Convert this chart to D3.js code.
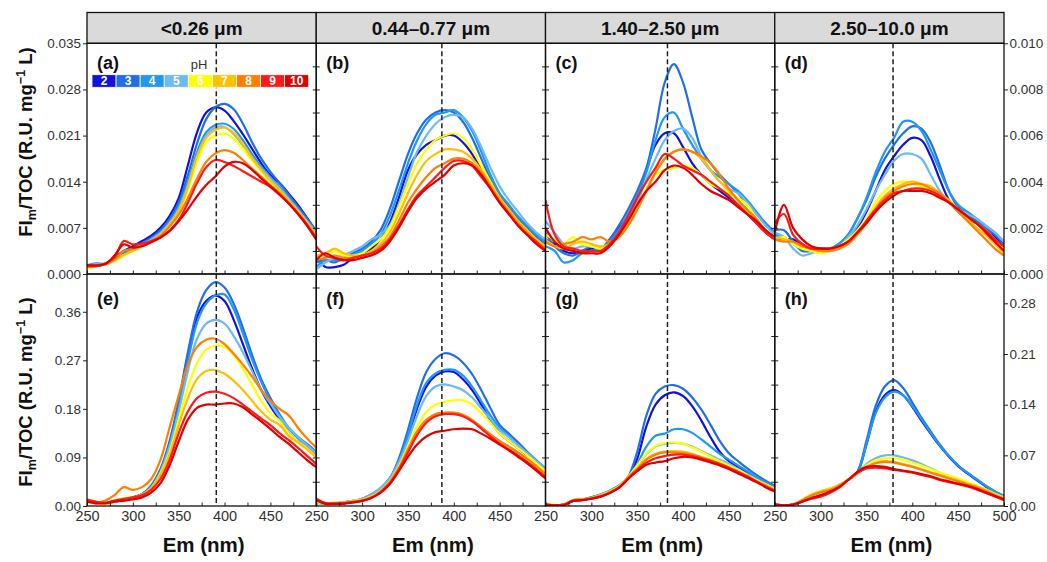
<!DOCTYPE html>
<html><head><meta charset="utf-8">
<script src="https://cdn.jsdelivr.net/npm/d3@7"></script>
<style>
body{margin:0;background:#fff}
svg{display:block}
text{font-family:"Liberation Sans",Arial,sans-serif}
</style>
</head><body>
<svg id="chart" width="1047" height="562"></svg>
<script>
// ---------------- DATA ----------------
const wavelengths = [250,260,270,280,290,300,310,320,330,340,350,360,370,380,390,400,410,420,430,440,450,460,470,480,490,500];
const phLevels = [2,3,4,5,6,7,8,9,10];
const phColors = ["#1212dc","#1f6fe6","#2196f3","#6cbaf5","#ffff00","#ffc000","#ff8000","#ff1a1a","#e00000"];
const sizeFractions = ["<0.26 μm","0.44–0.77 μm","1.40–2.50 μm","2.50–10.0 μm"];
const panelLetters = [["(a)","(b)","(c)","(d)"],["(e)","(f)","(g)","(h)"]];
const peakLines = [391,387,383,379];
const xTickLabels = [250,300,350,400,450];
const xTickLabelsLast = [250,300,350,400,450,500];
const xMinorTicks = [250,275,300,325,350,375,400,425,450,475,500];
const yTicksTopLeft = [0,0.007,0.014,0.021,0.028,0.035];
const yTicksTopRight = [0,0.002,0.004,0.006,0.008,0.010];
const yTicksBottomLeft = [0,0.09,0.18,0.27,0.36];
const yTicksBottomRight = [0,0.07,0.14,0.21,0.28];
const yInnerTop = [0.0035,0.007,0.0105,0.014,0.0175,0.021,0.0245,0.028,0.0315];
const yInnerBottom = [0.045,0.09,0.135,0.18,0.225,0.27,0.315,0.36,0.405];
const topDomainLeft = [0,0.035];
const topDomainRight = [0,0.010];
const bottomDomainLeft = [0,0.43];
const bottomDomainRight = [0,0.3205];

// (a) <0.26 um, pH 2..10
const panelA = [
[0.0010,0.0012,0.0015,0.0025,0.0035,0.0042,0.0050,0.0058,0.0070,0.0088,0.0115,0.0165,0.0215,0.0245,0.0253,0.0248,0.0232,0.0212,0.0190,0.0168,0.0150,0.0138,0.0122,0.0105,0.0085,0.0063],
[0.0010,0.0015,0.0016,0.0023,0.0032,0.0039,0.0046,0.0055,0.0066,0.0083,0.0108,0.0150,0.0198,0.0235,0.0253,0.0258,0.0250,0.0228,0.0200,0.0175,0.0155,0.0138,0.0120,0.0102,0.0084,0.0066],
[0.0013,0.0016,0.0015,0.0022,0.0030,0.0037,0.0044,0.0053,0.0063,0.0079,0.0102,0.0140,0.0185,0.0215,0.0226,0.0228,0.0220,0.0203,0.0182,0.0163,0.0147,0.0132,0.0116,0.0099,0.0081,0.0064],
[0.0012,0.0015,0.0014,0.0021,0.0029,0.0036,0.0043,0.0052,0.0062,0.0077,0.0099,0.0135,0.0180,0.0210,0.0222,0.0223,0.0212,0.0195,0.0177,0.0160,0.0145,0.0130,0.0114,0.0097,0.0080,0.0063],
[0.0008,0.0012,0.0015,0.0020,0.0028,0.0035,0.0042,0.0050,0.0060,0.0075,0.0095,0.0128,0.0170,0.0200,0.0210,0.0213,0.0205,0.0190,0.0172,0.0156,0.0141,0.0127,0.0111,0.0095,0.0077,0.0058],
[0.0010,0.0013,0.0015,0.0021,0.0029,0.0035,0.0042,0.0050,0.0060,0.0075,0.0096,0.0132,0.0178,0.0207,0.0219,0.0222,0.0214,0.0197,0.0176,0.0158,0.0142,0.0128,0.0112,0.0096,0.0078,0.0059],
[0.0012,0.0013,0.0015,0.0022,0.0035,0.0038,0.0044,0.0050,0.0058,0.0072,0.0090,0.0115,0.0145,0.0170,0.0183,0.0188,0.0184,0.0173,0.0160,0.0148,0.0135,0.0123,0.0108,0.0093,0.0075,0.0056],
[0.0012,0.0012,0.0016,0.0025,0.0050,0.0045,0.0046,0.0050,0.0056,0.0066,0.0082,0.0108,0.0138,0.0162,0.0173,0.0170,0.0164,0.0156,0.0148,0.0140,0.0132,0.0120,0.0107,0.0092,0.0075,0.0055],
[0.0014,0.0013,0.0015,0.0028,0.0045,0.0040,0.0042,0.0048,0.0055,0.0065,0.0080,0.0098,0.0118,0.0135,0.0148,0.0163,0.0170,0.0168,0.0158,0.0145,0.0133,0.0121,0.0107,0.0091,0.0073,0.0052]
];
// (b) 0.44-0.77 um
const panelB = [
[0.0008,0.0003,0.0003,0.0004,0.0007,0.0009,0.0011,0.0015,0.0022,0.0033,0.0045,0.0052,0.0056,0.0058,0.0060,0.0060,0.0057,0.0052,0.0045,0.0038,0.0032,0.0027,0.0023,0.0019,0.0015,0.0012],
[0.0005,0.0006,0.0005,0.0007,0.0009,0.0011,0.0014,0.0019,0.0028,0.0040,0.0052,0.0061,0.0067,0.0070,0.0071,0.0070,0.0066,0.0059,0.0050,0.0041,0.0034,0.0029,0.0024,0.0020,0.0016,0.0013],
[0.0003,0.0006,0.0006,0.0006,0.0008,0.0010,0.0013,0.0017,0.0025,0.0036,0.0048,0.0058,0.0065,0.0069,0.0070,0.0071,0.0068,0.0062,0.0053,0.0043,0.0035,0.0030,0.0025,0.0021,0.0017,0.0014],
[0.0002,0.0005,0.0007,0.0008,0.0010,0.0012,0.0015,0.0017,0.0021,0.0030,0.0042,0.0053,0.0060,0.0065,0.0068,0.0069,0.0068,0.0063,0.0055,0.0046,0.0038,0.0032,0.0027,0.0022,0.0018,0.0015],
[0.0007,0.0008,0.0010,0.0008,0.0008,0.0009,0.0012,0.0015,0.0020,0.0029,0.0039,0.0048,0.0054,0.0058,0.0060,0.0061,0.0059,0.0054,0.0047,0.0040,0.0033,0.0028,0.0023,0.0019,0.0015,0.0012],
[0.0008,0.0009,0.0011,0.0009,0.0008,0.0008,0.0010,0.0013,0.0018,0.0026,0.0035,0.0043,0.0049,0.0052,0.0054,0.0054,0.0053,0.0050,0.0045,0.0039,0.0033,0.0028,0.0023,0.0019,0.0015,0.0012],
[0.0006,0.0007,0.0008,0.0007,0.0007,0.0008,0.0009,0.0012,0.0016,0.0023,0.0031,0.0037,0.0042,0.0046,0.0048,0.0050,0.0050,0.0048,0.0044,0.0038,0.0032,0.0027,0.0022,0.0018,0.0014,0.0011],
[0.0012,0.0008,0.0007,0.0006,0.0007,0.0008,0.0009,0.0011,0.0015,0.0021,0.0028,0.0034,0.0038,0.0042,0.0046,0.0049,0.0049,0.0047,0.0042,0.0037,0.0031,0.0026,0.0021,0.0017,0.0014,0.0010],
[0.0006,0.0009,0.0007,0.0006,0.0006,0.0007,0.0008,0.0010,0.0014,0.0020,0.0027,0.0033,0.0037,0.0040,0.0043,0.0047,0.0048,0.0047,0.0043,0.0037,0.0031,0.0026,0.0021,0.0017,0.0013,0.0010]
];
// (c) 1.40-2.50 um
const panelC = [
[0.0015,0.0013,0.0010,0.0009,0.0010,0.0011,0.0010,0.0015,0.0020,0.0025,0.0033,0.0045,0.0056,0.0061,0.0061,0.0055,0.0048,0.0043,0.0039,0.0036,0.0033,0.0030,0.0026,0.0022,0.0018,0.0015],
[0.0018,0.0012,0.0009,0.0008,0.0010,0.0012,0.0011,0.0015,0.0021,0.0028,0.0036,0.0046,0.0063,0.0083,0.0091,0.0083,0.0068,0.0054,0.0048,0.0043,0.0039,0.0035,0.0030,0.0026,0.0022,0.0018],
[0.0012,0.0010,0.0005,0.0006,0.0009,0.0010,0.0011,0.0014,0.0019,0.0026,0.0034,0.0044,0.0058,0.0068,0.0070,0.0063,0.0056,0.0050,0.0045,0.0042,0.0039,0.0036,0.0032,0.0027,0.0022,0.0018],
[0.0023,0.0018,0.0013,0.0011,0.0012,0.0012,0.0011,0.0013,0.0018,0.0024,0.0031,0.0041,0.0050,0.0058,0.0062,0.0063,0.0059,0.0051,0.0045,0.0040,0.0037,0.0035,0.0031,0.0026,0.0021,0.0017],
[0.0017,0.0015,0.0013,0.0016,0.0013,0.0012,0.0011,0.0013,0.0017,0.0022,0.0029,0.0037,0.0043,0.0045,0.0046,0.0047,0.0046,0.0043,0.0039,0.0037,0.0035,0.0033,0.0030,0.0024,0.0019,0.0015],
[0.0015,0.0012,0.0011,0.0013,0.0014,0.0013,0.0012,0.0013,0.0016,0.0021,0.0028,0.0036,0.0044,0.0050,0.0053,0.0054,0.0053,0.0050,0.0045,0.0040,0.0036,0.0032,0.0027,0.0023,0.0019,0.0016],
[0.0014,0.0012,0.0013,0.0014,0.0016,0.0015,0.0016,0.0014,0.0016,0.0021,0.0028,0.0036,0.0044,0.0050,0.0053,0.0054,0.0053,0.0051,0.0048,0.0043,0.0037,0.0032,0.0028,0.0024,0.0019,0.0016],
[0.0032,0.0017,0.0012,0.0011,0.0010,0.0010,0.0010,0.0013,0.0018,0.0025,0.0033,0.0040,0.0046,0.0052,0.0050,0.0047,0.0045,0.0043,0.0040,0.0037,0.0034,0.0030,0.0026,0.0022,0.0018,0.0015],
[0.0020,0.0014,0.0011,0.0010,0.0009,0.0009,0.0009,0.0012,0.0017,0.0023,0.0030,0.0036,0.0040,0.0045,0.0047,0.0046,0.0043,0.0039,0.0036,0.0034,0.0032,0.0029,0.0026,0.0023,0.0019,0.0016]
];
// (d) 2.50-10.0 um
const panelD = [
[0.0016,0.0015,0.0015,0.0012,0.0011,0.0011,0.0011,0.0012,0.0015,0.0020,0.0027,0.0036,0.0045,0.0051,0.0056,0.0059,0.0058,0.0051,0.0041,0.0032,0.0027,0.0024,0.0022,0.0019,0.0016,0.0012],
[0.0019,0.0019,0.0014,0.0010,0.0010,0.0011,0.0011,0.0013,0.0017,0.0024,0.0032,0.0042,0.0050,0.0056,0.0061,0.0064,0.0063,0.0057,0.0047,0.0036,0.0029,0.0026,0.0023,0.0020,0.0017,0.0013],
[0.0017,0.0016,0.0013,0.0011,0.0010,0.0011,0.0011,0.0013,0.0017,0.0024,0.0033,0.0044,0.0053,0.0059,0.0066,0.0066,0.0062,0.0054,0.0045,0.0036,0.0030,0.0027,0.0024,0.0021,0.0018,0.0014],
[0.0018,0.0016,0.0011,0.0008,0.0009,0.0010,0.0011,0.0012,0.0016,0.0021,0.0028,0.0036,0.0043,0.0049,0.0052,0.0052,0.0050,0.0043,0.0036,0.0031,0.0028,0.0026,0.0024,0.0021,0.0018,0.0014],
[0.0015,0.0016,0.0013,0.0011,0.0010,0.0009,0.0010,0.0012,0.0015,0.0019,0.0024,0.0031,0.0036,0.0039,0.0040,0.0039,0.0038,0.0036,0.0034,0.0031,0.0028,0.0025,0.0022,0.0019,0.0015,0.0011],
[0.0016,0.0015,0.0014,0.0012,0.0011,0.0010,0.0010,0.0011,0.0014,0.0018,0.0023,0.0029,0.0034,0.0037,0.0039,0.0040,0.0039,0.0038,0.0035,0.0032,0.0028,0.0024,0.0020,0.0017,0.0013,0.0009],
[0.0015,0.0014,0.0014,0.0012,0.0011,0.0010,0.0010,0.0011,0.0013,0.0017,0.0022,0.0028,0.0033,0.0036,0.0038,0.0039,0.0039,0.0037,0.0035,0.0031,0.0027,0.0023,0.0019,0.0015,0.0011,0.0008],
[0.0022,0.0026,0.0017,0.0013,0.0011,0.0011,0.0011,0.0012,0.0014,0.0018,0.0023,0.0028,0.0032,0.0035,0.0036,0.0037,0.0037,0.0036,0.0034,0.0031,0.0028,0.0025,0.0022,0.0019,0.0015,0.0012],
[0.0018,0.0030,0.0020,0.0015,0.0012,0.0011,0.0011,0.0012,0.0014,0.0018,0.0022,0.0027,0.0031,0.0034,0.0036,0.0036,0.0036,0.0035,0.0033,0.0031,0.0028,0.0025,0.0022,0.0018,0.0014,0.0010]
];
// (e) <0.26 um, bottom row
const panelE = [
[0.010,0.006,0.004,0.008,0.012,0.016,0.022,0.036,0.065,0.115,0.190,0.280,0.350,0.380,0.390,0.380,0.345,0.300,0.255,0.215,0.185,0.160,0.135,0.120,0.108,0.095],
[0.008,0.006,0.005,0.009,0.012,0.016,0.022,0.038,0.068,0.120,0.195,0.285,0.360,0.400,0.415,0.405,0.375,0.330,0.280,0.235,0.200,0.170,0.145,0.128,0.115,0.100],
[0.006,0.005,0.005,0.008,0.011,0.015,0.021,0.035,0.064,0.112,0.182,0.268,0.340,0.375,0.390,0.392,0.365,0.320,0.272,0.230,0.195,0.168,0.143,0.126,0.112,0.098],
[0.007,0.005,0.004,0.008,0.011,0.015,0.021,0.034,0.062,0.110,0.175,0.250,0.310,0.338,0.345,0.338,0.315,0.285,0.250,0.215,0.190,0.165,0.145,0.128,0.113,0.098],
[0.006,0.005,0.004,0.008,0.012,0.015,0.020,0.033,0.060,0.100,0.160,0.220,0.265,0.290,0.297,0.295,0.280,0.255,0.225,0.195,0.172,0.158,0.135,0.120,0.107,0.092],
[0.008,0.006,0.005,0.010,0.014,0.016,0.021,0.034,0.058,0.095,0.150,0.200,0.235,0.250,0.252,0.245,0.232,0.215,0.195,0.175,0.160,0.150,0.130,0.118,0.105,0.090],
[0.008,0.006,0.010,0.020,0.035,0.030,0.035,0.050,0.085,0.145,0.205,0.262,0.295,0.308,0.310,0.300,0.282,0.262,0.240,0.215,0.195,0.180,0.168,0.145,0.125,0.108],
[0.012,0.008,0.006,0.010,0.013,0.016,0.020,0.030,0.050,0.085,0.135,0.175,0.200,0.210,0.212,0.208,0.200,0.188,0.175,0.162,0.150,0.135,0.122,0.108,0.093,0.078],
[0.008,0.005,0.005,0.008,0.010,0.012,0.016,0.025,0.042,0.075,0.120,0.160,0.182,0.188,0.188,0.190,0.190,0.183,0.170,0.157,0.143,0.128,0.115,0.100,0.085,0.072]
];
// (f) 0.44-0.77 um, bottom row
const panelF = [
[0.008,0.004,0.004,0.005,0.007,0.010,0.016,0.024,0.038,0.060,0.095,0.135,0.165,0.180,0.186,0.185,0.175,0.160,0.140,0.118,0.100,0.090,0.080,0.070,0.060,0.050],
[0.006,0.003,0.003,0.004,0.006,0.009,0.014,0.022,0.037,0.065,0.105,0.150,0.185,0.203,0.211,0.208,0.198,0.182,0.160,0.135,0.112,0.100,0.088,0.075,0.063,0.052],
[0.005,0.003,0.004,0.004,0.006,0.009,0.014,0.022,0.036,0.062,0.098,0.140,0.170,0.183,0.188,0.188,0.180,0.165,0.145,0.125,0.108,0.096,0.085,0.073,0.062,0.051],
[0.004,0.003,0.004,0.005,0.007,0.010,0.016,0.025,0.038,0.060,0.090,0.125,0.152,0.165,0.168,0.165,0.160,0.150,0.135,0.120,0.105,0.095,0.084,0.073,0.062,0.052],
[0.006,0.003,0.005,0.004,0.007,0.009,0.013,0.021,0.034,0.055,0.082,0.110,0.130,0.140,0.144,0.146,0.146,0.140,0.128,0.115,0.100,0.090,0.080,0.070,0.059,0.048],
[0.007,0.004,0.004,0.005,0.006,0.008,0.012,0.020,0.033,0.053,0.078,0.102,0.118,0.126,0.128,0.128,0.125,0.118,0.108,0.098,0.089,0.082,0.074,0.065,0.055,0.045],
[0.008,0.004,0.004,0.004,0.006,0.008,0.012,0.020,0.033,0.052,0.078,0.103,0.119,0.127,0.129,0.129,0.126,0.119,0.109,0.099,0.090,0.082,0.074,0.065,0.055,0.044],
[0.010,0.004,0.003,0.004,0.005,0.007,0.011,0.019,0.031,0.050,0.074,0.098,0.115,0.124,0.127,0.127,0.124,0.117,0.107,0.096,0.086,0.078,0.070,0.061,0.051,0.040],
[0.008,0.003,0.003,0.003,0.005,0.007,0.011,0.018,0.030,0.048,0.068,0.085,0.096,0.102,0.104,0.106,0.107,0.106,0.100,0.093,0.085,0.077,0.068,0.059,0.049,0.038]
];
// (g) 1.40-2.50 um, bottom row
const panelG = [
[0.002,0.001,0.002,0.008,0.009,0.011,0.015,0.020,0.027,0.038,0.065,0.110,0.140,0.153,0.157,0.152,0.138,0.118,0.095,0.075,0.062,0.054,0.046,0.039,0.032,0.025],
[0.002,0.001,0.002,0.007,0.009,0.012,0.016,0.021,0.028,0.040,0.075,0.125,0.155,0.165,0.167,0.162,0.150,0.133,0.112,0.090,0.073,0.062,0.052,0.043,0.035,0.028],
[0.003,0.001,0.002,0.007,0.009,0.012,0.016,0.021,0.028,0.040,0.058,0.082,0.097,0.100,0.106,0.106,0.101,0.092,0.082,0.072,0.064,0.056,0.048,0.040,0.033,0.026],
[0.002,0.001,0.002,0.007,0.008,0.011,0.015,0.020,0.027,0.040,0.055,0.072,0.082,0.086,0.087,0.086,0.082,0.076,0.070,0.064,0.058,0.051,0.044,0.037,0.030,0.024],
[0.003,0.002,0.002,0.008,0.009,0.011,0.015,0.020,0.027,0.040,0.056,0.073,0.083,0.087,0.088,0.086,0.081,0.075,0.068,0.062,0.056,0.050,0.043,0.036,0.030,0.024],
[0.002,0.001,0.002,0.008,0.009,0.011,0.014,0.019,0.026,0.040,0.052,0.065,0.072,0.075,0.076,0.075,0.072,0.068,0.064,0.059,0.054,0.048,0.042,0.035,0.029,0.023],
[0.002,0.001,0.002,0.008,0.009,0.011,0.014,0.019,0.026,0.039,0.051,0.064,0.071,0.074,0.074,0.073,0.071,0.067,0.063,0.058,0.053,0.047,0.041,0.034,0.028,0.022],
[0.002,0.001,0.002,0.007,0.008,0.010,0.013,0.018,0.025,0.038,0.050,0.060,0.066,0.069,0.071,0.071,0.069,0.066,0.062,0.058,0.053,0.047,0.041,0.034,0.027,0.021],
[0.002,0.001,0.001,0.007,0.008,0.010,0.013,0.018,0.025,0.037,0.048,0.057,0.060,0.062,0.066,0.068,0.067,0.064,0.060,0.056,0.051,0.045,0.039,0.033,0.026,0.020]
];
// (h) 2.50-10.0 um, bottom row
const panelH = [
[0.002,0.001,0.002,0.008,0.015,0.020,0.023,0.028,0.036,0.046,0.085,0.130,0.153,0.160,0.153,0.137,0.118,0.100,0.083,0.068,0.055,0.045,0.036,0.027,0.019,0.013],
[0.002,0.001,0.002,0.007,0.015,0.020,0.023,0.029,0.036,0.047,0.090,0.138,0.165,0.174,0.163,0.143,0.122,0.103,0.085,0.069,0.056,0.046,0.037,0.028,0.020,0.014],
[0.002,0.001,0.002,0.008,0.014,0.020,0.024,0.029,0.036,0.046,0.085,0.128,0.150,0.158,0.153,0.138,0.120,0.101,0.084,0.069,0.056,0.046,0.037,0.028,0.020,0.014],
[0.002,0.001,0.002,0.008,0.015,0.020,0.023,0.028,0.036,0.046,0.058,0.066,0.070,0.070,0.067,0.063,0.058,0.052,0.046,0.041,0.037,0.032,0.028,0.023,0.017,0.012],
[0.002,0.001,0.002,0.009,0.016,0.021,0.024,0.029,0.037,0.046,0.056,0.063,0.066,0.066,0.064,0.060,0.056,0.051,0.046,0.042,0.038,0.033,0.028,0.023,0.017,0.012],
[0.002,0.001,0.002,0.008,0.015,0.020,0.023,0.028,0.036,0.045,0.054,0.060,0.062,0.061,0.058,0.055,0.051,0.047,0.043,0.039,0.035,0.031,0.027,0.022,0.016,0.011],
[0.002,0.001,0.002,0.008,0.015,0.019,0.022,0.028,0.036,0.045,0.053,0.059,0.061,0.060,0.057,0.054,0.050,0.046,0.042,0.038,0.034,0.030,0.026,0.021,0.015,0.010],
[0.002,0.001,0.002,0.006,0.010,0.013,0.018,0.025,0.036,0.046,0.052,0.053,0.052,0.050,0.048,0.046,0.043,0.040,0.036,0.033,0.030,0.027,0.023,0.018,0.013,0.008],
[0.002,0.001,0.002,0.006,0.011,0.015,0.020,0.026,0.036,0.047,0.054,0.055,0.054,0.051,0.049,0.047,0.044,0.041,0.037,0.034,0.031,0.028,0.024,0.019,0.014,0.009]
];

// ---------------- LAYOUT ----------------
const svg = d3.select("#chart");
const L = 87, R = 1004, pw = (R - L) / 4;
const headerTop = 12.5;
const rows = [{top:43.3, bottom:274}, {top:274, bottom:506}];
const yScales = [
  {left: d3.scaleLinear(topDomainLeft, [rows[0].bottom, rows[0].top]),
   right: d3.scaleLinear(topDomainRight, [rows[0].bottom, rows[0].top])},
  {left: d3.scaleLinear(bottomDomainLeft, [rows[1].bottom, rows[1].top]),
   right: d3.scaleLinear(bottomDomainRight, [rows[1].bottom, rows[1].top])}
];
const panelData = [[panelA,panelB,panelC,panelD],[panelE,panelF,panelG,panelH]];
const xScales = d3.range(4).map(c => d3.scaleLinear([250,500],[L + c*pw, L + (c+1)*pw]));
const tickColor = "#333";

const defs = svg.append("defs");

// headers
sizeFractions.forEach((t, c) => {
  svg.append("rect").attr("x", L + c*pw).attr("y", headerTop).attr("width", pw).attr("height", rows[0].top - headerTop)
    .attr("fill", "#dadada").attr("stroke", "#111").attr("stroke-width", 1.3);
  svg.append("text").attr("x", L + c*pw + pw/2).attr("y", 34.8).attr("text-anchor","middle")
    .attr("font-size", 19).attr("font-weight","bold").attr("fill","#111").text(t);
});

rows.forEach((row, r) => {
  for (let c = 0; c < 4; c++) {
    const x = xScales[c];
    const y = c === 0 ? yScales[r].left : yScales[r].right;
    const id = `clip${r}${c}`;
    defs.append("clipPath").attr("id", id).append("rect")
      .attr("x", L + c*pw).attr("y", row.top).attr("width", pw).attr("height", row.bottom - row.top);
    const g = svg.append("g").attr("clip-path", `url(#${id})`);
    const line = d3.line().x((d,i) => x(wavelengths[i])).y(d => y(d)).curve(d3.curveCatmullRom.alpha(0.5));
    panelData[r][c].forEach((series, k) => {
      g.append("path").attr("d", line(series)).attr("fill","none")
        .attr("stroke", phColors[k]).attr("stroke-width", 2.2).attr("stroke-linejoin","round");
    });
    // dashed peak line
    svg.append("line").attr("x1", x(peakLines[c])).attr("x2", x(peakLines[c]))
      .attr("y1", row.top).attr("y2", row.bottom)
      .attr("stroke", "#222").attr("stroke-width", 1.5).attr("stroke-dasharray", "5,3");
    // bottom inner ticks
    svg.append("g").attr("transform", `translate(0,${row.bottom})`)
      .call(d3.axisBottom(x).tickValues(xMinorTicks).tickSize(-3.5).tickFormat(""))
      .call(g => g.select(".domain").remove())
      .selectAll("line").attr("stroke","#222");
    // panel letter
    svg.append("text").attr("x", L + c*pw + 10).attr("y", row.top + (r === 0 ? 26 : 31))
      .attr("font-size", 18).attr("font-weight","bold").attr("fill","#111").text(panelLetters[r][c]);
  }
  // inner vertical ticks at internal boundaries
  const inner = r === 0 ? yInnerTop : yInnerBottom;
  for (let c = 1; c < 4; c++) {
    const xb = L + c*pw;
    svg.append("g").attr("transform", `translate(${xb},0)`)
      .call(d3.axisRight(yScales[r].left).tickValues(inner).tickSize(3.5).tickFormat(""))
      .call(g => g.select(".domain").remove()).selectAll("line").attr("stroke","#222");
    svg.append("g").attr("transform", `translate(${xb},0)`)
      .call(d3.axisLeft(yScales[r].left).tickValues(inner).tickSize(3.5).tickFormat(""))
      .call(g => g.select(".domain").remove()).selectAll("line").attr("stroke","#222");
  }
  // frames
  for (let c = 0; c < 4; c++) {
    svg.append("rect").attr("x", L + c*pw).attr("y", row.top).attr("width", pw).attr("height", row.bottom - row.top)
      .attr("fill","none").attr("stroke","#111").attr("stroke-width", 1.3);
  }
});

function styleAxis(g, size) {
  g.select(".domain").remove();
  g.selectAll("line").attr("stroke", "#222");
  g.selectAll("text").attr("fill", tickColor).attr("font-size", size)
    .attr("font-family", '"Liberation Sans",Arial,sans-serif');
}

// left axes
svg.append("g").attr("transform", `translate(${L},0)`)
  .call(d3.axisLeft(yScales[0].left).tickValues(yTicksTopLeft).tickFormat(d3.format(".3f")).tickSizeInner(4).tickSizeOuter(0).tickPadding(2))
  .call(g => styleAxis(g, 13.5));
svg.append("g").attr("transform", `translate(${L},0)`)
  .call(d3.axisLeft(yScales[1].left).tickValues(yTicksBottomLeft).tickFormat(d3.format(".2f")).tickSizeInner(4).tickSizeOuter(0).tickPadding(2))
  .call(g => styleAxis(g, 13.5));
// right axes
svg.append("g").attr("transform", `translate(${R},0)`)
  .call(d3.axisRight(yScales[0].right).tickValues(yTicksTopRight).tickFormat(d3.format(".3f")).tickSizeInner(4).tickSizeOuter(0).tickPadding(1.5))
  .call(g => styleAxis(g, 13.5));
svg.append("g").attr("transform", `translate(${R},0)`)
  .call(d3.axisRight(yScales[1].right).tickValues(yTicksBottomRight).tickFormat(d3.format(".2f")).tickSizeInner(4).tickSizeOuter(0).tickPadding(1.5))
  .call(g => styleAxis(g, 13.5));
// bottom x labels
for (let c = 0; c < 4; c++) {
  svg.append("g").attr("transform", `translate(0,${rows[1].bottom})`)
    .call(d3.axisBottom(xScales[c]).tickValues(c === 3 ? xTickLabelsLast : xTickLabels).tickSize(0).tickPadding(5).tickFormat(d3.format("d")))
    .call(g => styleAxis(g, 14.5));
  svg.append("text").attr("x", L + c*pw + pw/2 + 2).attr("y", 552).attr("text-anchor","middle")
    .attr("font-size", 20.5).attr("font-weight","bold").attr("fill","#111").text("Em (nm)");
}

// y titles
[142, 392].forEach(cy => {
  const t = svg.append("text").attr("transform", `translate(32,${cy}) rotate(-90)`)
    .attr("text-anchor","middle").attr("font-size", 18.5).attr("font-weight","bold").attr("fill","#111");
  t.append("tspan").text("FI");
  t.append("tspan").attr("font-size", 12.5).attr("dy", 4).text("m");
  t.append("tspan").attr("dy", -4).text("/TOC (R.U. mg");
  t.append("tspan").attr("font-size", 12.5).attr("dy", -7).text("−1");
  t.append("tspan").attr("dy", 7).text(" L)");
});

// pH legend
const lgX = 92, lgY = 74.7, lgW = (308.7 - 92) / phLevels.length, lgH = 12.6;
phLevels.forEach((p, i) => {
  svg.append("rect").attr("x", lgX + i*lgW).attr("y", lgY).attr("width", lgW).attr("height", lgH)
    .attr("fill", phColors[i]).attr("stroke","#fff").attr("stroke-width", 0.8);
  svg.append("text").attr("x", lgX + i*lgW + lgW/2).attr("y", lgY + lgH - 2).attr("text-anchor","middle")
    .attr("font-size", 12).attr("font-weight","bold").attr("fill","#fff").text(p);
});
svg.append("text").attr("x", 199).attr("y", 69).attr("text-anchor","middle")
  .attr("font-size", 13).attr("fill", "#333").text("pH");
</script>
</body></html>
